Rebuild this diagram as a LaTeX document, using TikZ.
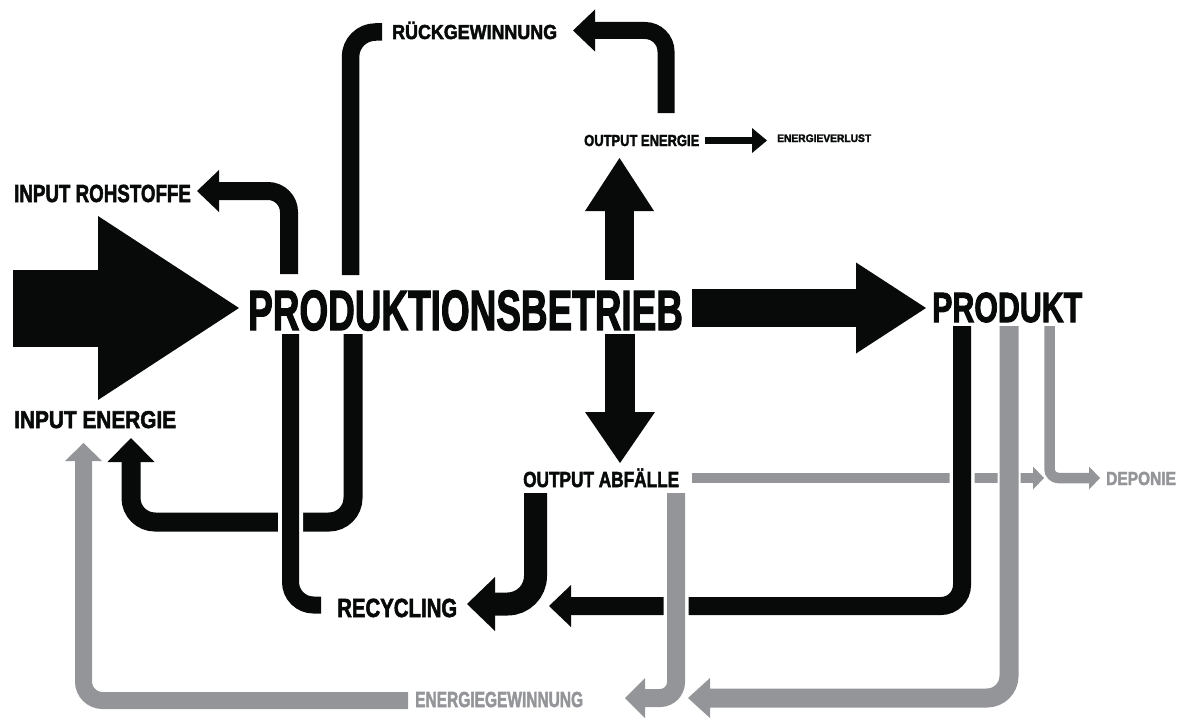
\documentclass[tikz,border=0pt]{standalone}
\usepackage{graphicx}
\usepackage{fontspec}
\setmainfont{Liberation Sans}[BoldFeatures={FakeBold=2.5}]
\usetikzlibrary{arrows.meta}

\definecolor{ink}{RGB}{8,10,10}
\definecolor{ash}{RGB}{147,149,152}

% narrow bold caps: size, horizontal factor, text
\newcommand{\squeezed}[3]{\fontsize{#1}{#1}\selectfont\scalebox{#2}[1]{#3}}

\tikzstyle{txt}=[inner sep=0pt, anchor=base west, font=\bfseries, text=ink]
\tikzstyle{greytxt}=[txt, text=ash]
\tikzstyle{pipe}=[draw=ink, line width=18pt, rounded corners=21pt]
\tikzstyle{greypipe}=[pipe, draw=ash]
\tikzstyle{thinpipe}=[draw=ash, line width=10pt, rounded corners=9pt]
\tikzstyle{pipehead}=[-{Triangle[width=42pt,length=22pt,line width=0pt]}]
\tikzstyle{thinhead}=[-{Triangle[width=23pt,length=11pt,line width=0pt]}]
\tikzstyle{bridge}=[preaction={draw=white, line width=25pt}]

\begin{document}
\begin{tikzpicture}[x=1pt, y=-1pt]
			\useasboundingbox (0,0) rectangle (1182,717);
			%Labels
			\node[txt] (betrieb) at (248,330) {\squeezed{56.7}{0.651}{PRODUKTIONSBETRIEB}};
			\node[txt] (produkt) at (932,322) {\squeezed{42.2}{0.719}{PRODUKT}};
			\node[txt] (rohstoffe) at (14,202) {\squeezed{24.7}{0.759}{INPUT ROHSTOFFE}};
			\node[txt] (inenergie) at (14,428) {\squeezed{24.3}{0.857}{INPUT ENERGIE}};
			\node[txt] (rueck) at (392,39) {\squeezed{20.3}{0.881}{RÜCKGEWINNUNG}};
			\node[txt] (outenergie) at (584,146) {\squeezed{16}{0.809}{OUTPUT ENERGIE}};
			\node[txt] (verlust) at (777,142) {\squeezed{10.9}{0.94}{ENERGIEVERLUST}};
			\node[txt] (abfaelle) at (523,487) {\squeezed{21.8}{0.79}{OUTPUT ABFÄLLE}};
			\node[txt] (recycling) at (337,617) {\squeezed{26.2}{0.778}{RECYCLING}};
			\node[greytxt] (gewinnung) at (415,707) {\squeezed{21.8}{0.711}{ENERGIEGEWINNUNG}};
			\node[greytxt] (deponie) at (1106,485) {\squeezed{18.9}{0.82}{DEPONIE}};
			%Ends of the flows
			\coordinate (in-tail) at (13,308);		\coordinate (in-tip) at (239,308);
			\coordinate (prod-tail) at (692,308);	\coordinate (prod-tip) at (926,308);
			\coordinate (up-tail) at (619.5,280);	\coordinate (up-tip) at (619.5,158);
			\coordinate (down-tail) at (620,334);	\coordinate (down-tip) at (620,463);
			\coordinate (loss-tail) at (705,140.5);	\coordinate (loss-tip) at (767,140.5);
			\coordinate (roh-tail) at (289,274);	\coordinate (roh-tip) at (197,191);
			\coordinate (rueck-tail) at (350.5,275);	\coordinate (rueck-end) at (382,32);
			\coordinate (oe-tail) at (666,113);		\coordinate (oe-tip) at (573,30.5);
			\coordinate (ie-tail) at (353,334);		\coordinate (ie-bend) at (131,522);
			\coordinate (ie-tip) at (131,438);
			\coordinate (rec-tail) at (290.5,334);	\coordinate (rec-end) at (321,605);
			\coordinate (ab-tail) at (535.5,493);	\coordinate (ab-tip) at (467,604);
			\coordinate (dep-tail) at (692,478);	\coordinate (dep-tip) at (1044,478);
			\coordinate (pr-tail) at (962,326);		\coordinate (pr-tip) at (549,606);
			\coordinate (ag-tail) at (676,493);		\coordinate (ag-tip) at (625,698);
			\coordinate (pg-tail) at (1009,326);	\coordinate (pg-tip) at (688,698);
			\coordinate (eg-tail) at (408,700.5);	\coordinate (eg-tip) at (83.5,443);
			\coordinate (pd-tail) at (1049.5,326);	\coordinate (pd-tip) at (1100,478);
			%Main flow
			\draw[ink, line width=77pt, -{Triangle[width=184pt,length=141pt,line width=0pt]}] (in-tail) -- (in-tip);
			\draw[ink, line width=38pt, -{Triangle[width=91pt,length=70pt,line width=0pt]}] (prod-tail) -- (prod-tip);
			\draw[ink, line width=29pt, -{Triangle[width=69pt,length=53pt,line width=0pt]}] (up-tail) -- (up-tip);
			\draw[ink, line width=30pt, -{Triangle[width=70pt,length=51pt,line width=0pt]}] (down-tail) -- (down-tip);
			\draw[ink, line width=7pt, -{Triangle[width=25pt,length=15pt,line width=0pt]}] (loss-tail) -- (loss-tip);
			%Black loops
			\draw[pipe, pipehead] (roh-tail) |- (roh-tip);
			\draw[pipe, line width=17.5pt, rounded corners=25pt] (rueck-tail) |- (rueck-end);
			\draw[pipe, line width=17pt, pipehead] (oe-tail) |- (oe-tip);
			\draw[pipe, line width=19pt, rounded corners=24pt, -{Triangle[width=47pt,length=24pt,line width=0pt]}] (ie-tail) |- (ie-bend) -- (ie-tip);
			\draw[pipe, line width=17pt, rounded corners=23pt, bridge] (rec-tail) |- (rec-end);
			\draw[pipe, line width=23pt, rounded corners=28pt, -{Triangle[width=54pt,length=28pt,line width=0pt]}] (ab-tail) |- (ab-tip);
			%Waste and returns
			\draw[thinpipe, thinhead] (dep-tail) -- (dep-tip);
			\draw[pipe, bridge, pipehead] (pr-tail) |- (pr-tip);
			\draw[greypipe, rounded corners=16pt, bridge, -{Triangle[width=40pt,length=20pt,line width=0pt]}] (ag-tail) |- (ag-tip);
			\draw[greypipe, line width=19pt, rounded corners=22pt, preaction={draw=white, line width=23pt}, -{Triangle[width=40pt,length=22pt,line width=0pt]}] (pg-tail) |- (pg-tip);
			\draw[greypipe, line width=17pt, rounded corners=19pt, -{Triangle[width=37pt,length=18pt,line width=0pt]}] (eg-tail) -| (eg-tip);
			\draw[thinpipe, line width=10.5pt, thinhead] (pd-tail) |- (pd-tip);
		\end{tikzpicture}
\end{document}
